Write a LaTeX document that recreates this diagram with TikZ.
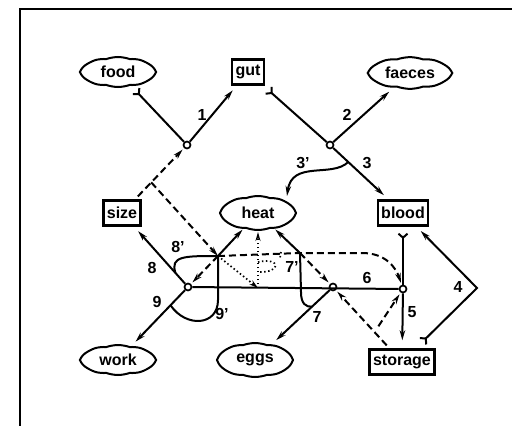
\documentclass[tikz,border=0pt]{standalone}
\usepackage{fontspec}
\setmainfont{Liberation Sans}
\usepackage{tikz}
\usetikzlibrary{shapes.symbols, arrows.meta, calc}

\begin{document}
\begin{tikzpicture}[x=1pt, y=-1pt,
    every node/.style={font=\fontsize{16}{18}\selectfont\bfseries},
    pool/.style={draw, line width=2.4pt, inner sep=3.5pt, minimum height=25pt},
    blob/.style={draw, cloud, cloud puffs=10, cloud puff arc=40, aspect=2.4, inner sep=0pt, line width=2pt, minimum width=74pt, minimum height=30pt},
    junc/.style={draw, circle, fill=white, line width=1.7pt, inner sep=0pt, minimum size=7pt},
    flow/.style={line width=2pt, arrows={-Stealth[length=10pt, width=5.5pt]}, shorten >=6pt},
    ytail/.style={line width=2pt, arrows={Straight Barb[reversed, length=4pt, width=9pt]-}, shorten <=6pt},
    both/.style={line width=2pt, arrows={Straight Barb[reversed, length=4pt, width=9pt]-Stealth[length=10pt, width=5.5pt]}, shorten <=6pt, shorten >=6pt},
    ctrl/.style={line width=2pt, dash pattern=on 7pt off 4pt},
    dots/.style={line width=1.7pt, dash pattern=on 1.5pt off 2.5pt},
    lbl/.style={inner sep=0pt}
]
    \useasboundingbox (0,0) rectangle (512,426);
    % frame
    \draw[line width=2.4pt] (20,426) -- (20,9) -- (512,9);

    % Pools and environment
    \node[blob] (food) at (118,72) {food};
    \node[pool] (gut) at (248,72) {gut};
    \node[blob, minimum width=82pt] (faeces) at (410,73) {faeces};
    \node[pool] (size) at (122,213) {size};
    \node[blob, minimum height=34pt] (heat) at (258,213) {heat};
    \node[pool] (blood) at (403,213) {blood};
    \node[blob] (work) at (118,360) {work};
    \node[blob, minimum height=34pt] (eggs) at (255,360) {eggs};
    \node[pool] (storage) at (402,362) {storage};

    % Junctions
    \node[junc] (J1) at (187,145) {};
    \node[junc] (J2) at (330,145) {};
    \node[junc] (J9) at (188,287) {};
    \node[junc] (J7) at (333,287) {};
    \node[junc] (J5) at (403,289) {};
    \coordinate (P8) at (218,256);
    \coordinate (P7) at (300,253);
    \coordinate (Pm) at (258,288);
    \coordinate (c4) at (477,288);
    \coordinate (sb) at ($(size)!0.45!(J1)$);
    \coordinate (c3) at ($(J2)!0.25!(blood)$);
    \coordinate (a8) at ($(J9)!0.19!(size)$);
    \coordinate (a9) at ($(J9)!0.25!(work)$);
    \coordinate (a7) at ($(J7)!0.27!(eggs)$);
    \coordinate (s5) at ($(storage.north west)+(10,-22)$);

    % Mass flows
    \draw[ytail] (food) -- (J1);
    \draw[flow] (J1) -- (gut);
    \draw[ytail] (gut) -- (J2);
    \draw[flow] (J2) -- (faeces);
    \draw[flow] (J2) -- (blood);
    \draw[ytail] (blood) -- (J5);
    \draw[flow, shorten >=8pt] (J5) -- (storage);
    \draw[both, shorten <=9pt] (storage) -- (c4) -- (blood);
    \draw[line width=2pt] (J9) -- (J5);
    \draw[flow] (J9) -- (size);
    \draw[flow] (J9) -- (work);
    \draw[flow] (J7) -- (eggs);

    % Heat
    \draw[flow, shorten >=0pt] (c3) .. controls (332,178) and (292,160) .. (287,196);
    \draw[line width=2pt] (a8) .. controls (170,256) and (184,256) .. (P8);
    \draw[line width=2pt] (P8) -- (218,300) .. controls (218,326) and (186,328) .. (a9);
    \draw[flow, shorten >=1pt] (P8) -- (heat);
    \draw[line width=2pt] (P7) -- (301,292) .. controls (301,304) and (306,307) .. (a7);
    \draw[flow, shorten >=1pt] (P7) -- (heat);
    \draw[dots, arrows={-Stealth[length=9pt, width=5pt]}] (P8) -- (Pm);
    \draw[dots, arrows={-Stealth[length=9pt, width=5pt]}, shorten >=1pt] (Pm) -- (heat);
    \draw[dots] (258,262) .. controls (281,257) and (282,273) .. (258,272);
    \draw[dots] (281,252) -- (280,258);

    % Control
    \draw[ctrl, arrows={-Stealth[length=10pt, width=5.5pt]}, shorten <=4pt, shorten >=2pt] (size) -- (J1);
    \draw[ctrl, arrows={-Stealth[length=10pt, width=5.5pt]}] (sb) -- (P8);
    \draw[ctrl, arrows={-Stealth[length=10pt, width=5.5pt]}, shorten >=2pt] (P8) -- (J9);
    \draw[ctrl, arrows={-Stealth[length=10pt, width=5.5pt]}, shorten >=2pt] (P8) -- (P7) -- (362,253) .. controls (386,253) and (396,268) .. (J5);
    \draw[ctrl, arrows={-Stealth[length=10pt, width=5.5pt]}, shorten >=2pt] (P7) -- (J7);
    \draw[ctrl, arrows={-Stealth[length=10pt, width=5.5pt]}, shorten <=4pt, shorten >=2pt] (storage) -- (J7);
    \draw[ctrl, arrows={-Stealth[length=10pt, width=5.5pt]}, shorten >=2pt] (s5) -- (J5);

    % Labels
    \node[lbl] (l1) at (202,115) {1};
    \node[lbl] (l2) at (347,115) {2};
    \node[lbl] (l3p) at (303,163) {3'};
    \node[lbl] (l3) at (367,163) {3};
    \node[lbl] (l4) at (458,287) {4};
    \node[lbl] (l5) at (412,312) {5};
    \node[lbl] (l6) at (367,278) {6};
    \node[lbl] (l7) at (317,317) {7};
    \node[lbl] (l7p) at (292,267) {7'};
    \node[lbl] (l8) at (152,268) {8};
    \node[lbl] (l8p) at (178,247) {8'};
    \node[lbl] (l9) at (157,302) {9};
    \node[lbl] (l9p) at (222,314) {9'};
\end{tikzpicture}
\end{document}
